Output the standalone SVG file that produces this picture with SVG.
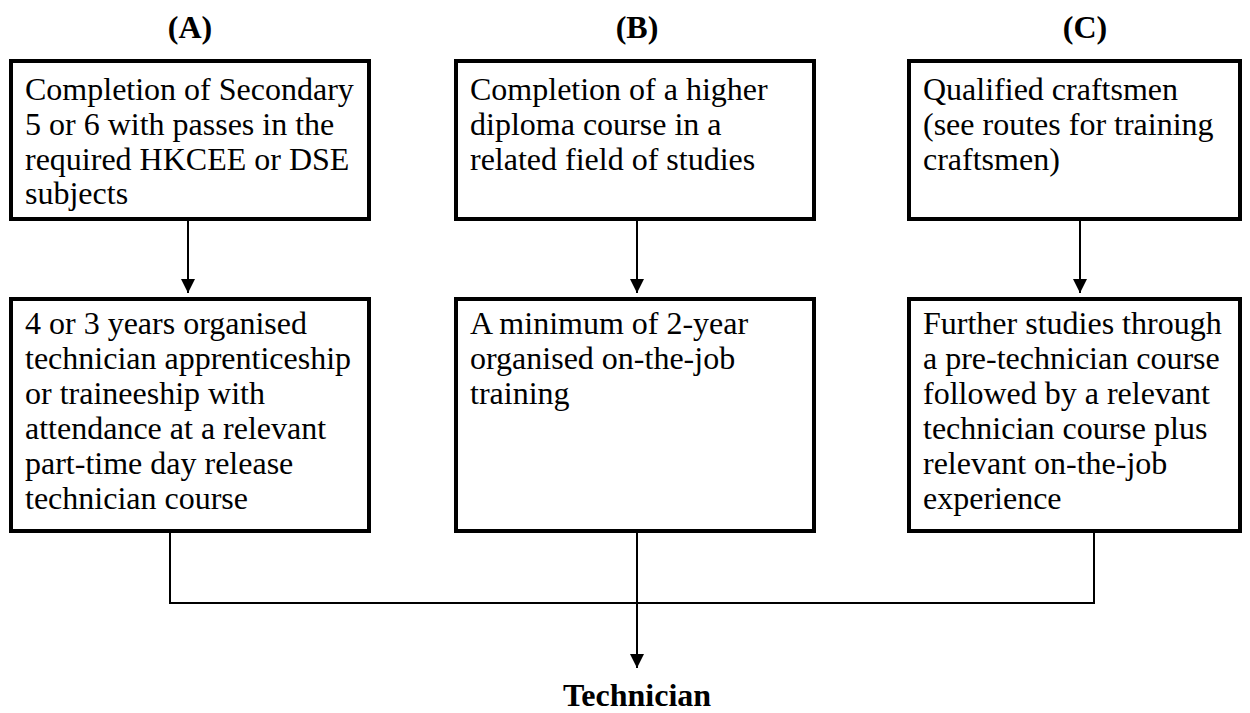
<svg xmlns="http://www.w3.org/2000/svg" width="1250" height="713" viewBox="0 0 1250 713">
<style>
.box{fill:#fff;stroke:#000;stroke-width:4}
.t{font-family:"Liberation Serif","Times New Roman",serif;font-size:32px;fill:#000}
.h{font-family:"Liberation Serif","Times New Roman",serif;font-size:32px;font-weight:bold;fill:#000;text-anchor:middle}
.c{fill:none;stroke:#000;stroke-width:2}
</style>
<defs>
<marker id="ah" markerWidth="16" markerHeight="14" refX="16" refY="8" orient="auto" markerUnits="userSpaceOnUse" viewBox="0 0 16 16">
<path d="M0,0 L16,8 L0,16 Z" fill="#000"/>
</marker>
</defs>
<rect width="1250" height="713" fill="#fff"/>
<text class="h" x="190" y="38">(A)</text>
<text class="h" x="637" y="38">(B)</text>
<text class="h" x="1085" y="38">(C)</text>
<g id="a1"><rect class="box" x="11" y="61" width="358" height="158"/>
<text class="t" x="25" y="100">Completion of Secondary</text>
<text class="t" x="25" y="135">5 or 6 with passes in the</text>
<text class="t" x="25" y="170">required HKCEE or DSE</text>
<text class="t" x="25" y="204">subjects</text></g>
<g id="b1"><rect class="box" x="456" y="61" width="358" height="158"/>
<text class="t" x="470" y="100">Completion of a higher</text>
<text class="t" x="470" y="135">diploma course in a</text>
<text class="t" x="470" y="170">related field of studies</text></g>
<g id="c1"><rect class="box" x="909" y="61" width="331" height="158"/>
<text class="t" x="923" y="100">Qualified craftsmen</text>
<text class="t" x="923" y="135">(see routes for training</text>
<text class="t" x="923" y="170">craftsmen)</text></g>
<g id="a2"><rect class="box" x="11" y="299" width="358" height="232"/>
<text class="t" x="25" y="334">4 or 3 years organised</text>
<text class="t" x="25" y="369">technician apprenticeship</text>
<text class="t" x="25" y="404">or traineeship with</text>
<text class="t" x="25" y="439">attendance at a relevant</text>
<text class="t" x="25" y="474">part-time day release</text>
<text class="t" x="25" y="509">technician course</text></g>
<g id="b2"><rect class="box" x="456" y="299" width="358" height="232"/>
<text class="t" x="470" y="334">A minimum of 2-year</text>
<text class="t" x="470" y="369">organised on-the-job</text>
<text class="t" x="470" y="404">training</text></g>
<g id="c2"><rect class="box" x="909" y="299" width="331" height="232"/>
<text class="t" x="923" y="334">Further studies through</text>
<text class="t" x="923" y="369">a pre-technician course</text>
<text class="t" x="923" y="404">followed by a relevant</text>
<text class="t" x="923" y="439">technician course plus</text>
<text class="t" x="923" y="474">relevant on-the-job</text>
<text class="t" x="923" y="509">experience</text></g>
<g id="tech"><text class="h" x="637" y="706">Technician</text></g>
<g id="connectors">
<line class="c" x1="188" y1="221" x2="188" y2="293" marker-end="url(#ah)"/>
<line class="c" x1="637" y1="221" x2="637" y2="293" marker-end="url(#ah)"/>
<line class="c" x1="1080" y1="221" x2="1080" y2="293" marker-end="url(#ah)"/>
<polyline class="c" points="170,533 170,603 1094,603 1094,533"/>
<line class="c" x1="637" y1="533" x2="637" y2="603"/>
<line class="c" x1="637" y1="603" x2="637" y2="668" marker-end="url(#ah)"/>
</g>
</svg>
